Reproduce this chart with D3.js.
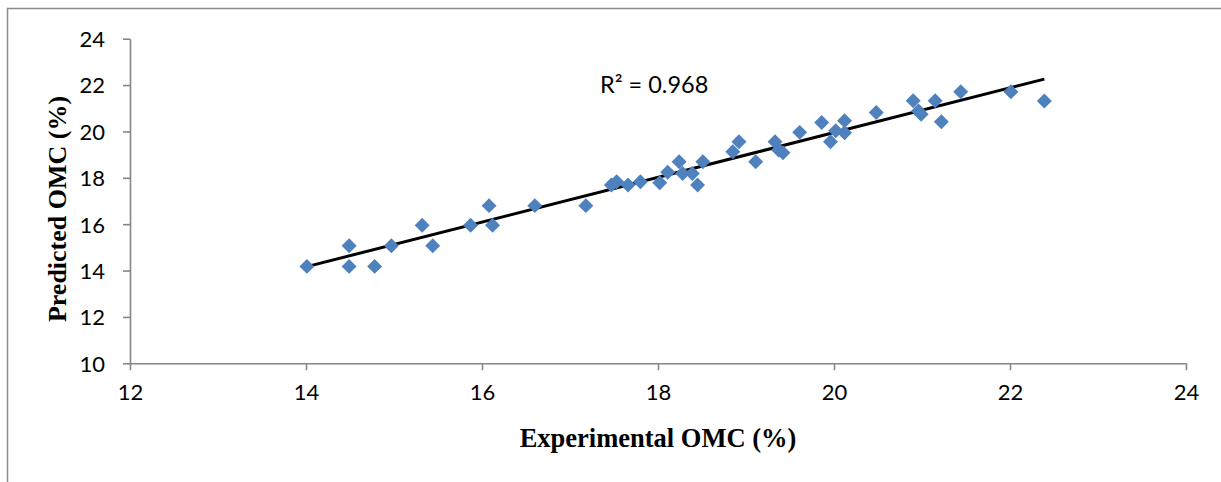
<!DOCTYPE html>
<html><head><meta charset="utf-8">
<script src="https://cdn.jsdelivr.net/npm/d3@7"></script>
<style>
html,body{margin:0;padding:0;background:#fff;}
svg{display:block;}
</style></head>
<body>
<svg id="chart" width="1221" height="482"></svg>
<script>
const experimental = [14.01,14.49,14.49,14.78,14.97,15.32,15.44,15.87,16.08,16.12,16.60,17.18,17.47,17.53,17.66,17.80,18.02,18.11,18.24,18.28,18.39,18.45,18.51,18.85,18.92,19.11,19.33,19.37,19.42,19.61,19.86,19.96,20.02,20.12,20.12,20.48,20.90,20.96,20.99,21.15,21.22,21.44,22.01,22.39];
const predicted    = [14.18,15.07,14.18,14.18,15.07,15.95,15.07,15.95,16.80,15.95,16.80,16.80,17.69,17.83,17.69,17.83,17.79,18.24,18.69,18.19,18.19,17.69,18.69,19.12,19.56,18.69,19.56,19.20,19.08,19.96,20.39,19.56,20.03,20.46,19.94,20.82,21.32,20.88,20.74,21.32,20.42,21.71,21.71,21.31];
const xTicks = [12,14,16,18,20,22,24];
const yTicks = [10,12,14,16,18,20,22,24];
const xTitle = "Experimental OMC (%)";
const yTitle = "Predicted OMC (%)";
const r2Label = "R² = 0.968";

const svg = d3.select("#chart");
const x = d3.scaleLinear().domain([12,24]).range([130,1186]);
const y = d3.scaleLinear().domain([10,24]).range([363.3,38.7]);
const axisColor = "#868686";

// outer border
svg.append("path").attr("d","M7.5,490 L7.5,8.5 L1230,8.5")
  .attr("fill","none").attr("stroke","#8c8c8c").attr("stroke-width",1.5);

const xAxis = svg.append("g").attr("transform","translate(0,363.3)")
  .call(d3.axisBottom(x).tickValues(xTicks).tickSize(7).tickSizeOuter(0).tickPadding(14).tickFormat(d3.format("d")));
const yAxis = svg.append("g").attr("transform","translate(130,0)")
  .call(d3.axisLeft(y).tickValues(yTicks).tickSize(7).tickSizeOuter(0).tickPadding(18).tickFormat(d3.format("d")));
[xAxis,yAxis].forEach(a=>{
  a.selectAll("path,line").attr("stroke",axisColor).attr("stroke-width",1.6);
  a.selectAll("text").attr("fill","#000").style("font-family","Lato, 'Open Sans', sans-serif").style("font-size","22px");
});
yAxis.selectAll("text").attr("dy","0.36em");

// trendline via least squares
const n = experimental.length;
const mx = d3.mean(experimental), my = d3.mean(predicted);
let sxy=0,sxx=0;
for(let i=0;i<n;i++){sxy+=(experimental[i]-mx)*(predicted[i]-my);sxx+=(experimental[i]-mx)**2;}
const slope = sxy/sxx, intercept = my - slope*mx;
const [xmin,xmax] = d3.extent(experimental);
svg.append("line")
  .attr("x1",x(xmin)).attr("y1",y(intercept+slope*xmin))
  .attr("x2",x(xmax)).attr("y2",y(intercept+slope*xmax))
  .attr("stroke","#000").attr("stroke-width",3);

// points
const diamond = d3.symbol().type(d3.symbolSquare).size(112);
svg.append("g").selectAll("path").data(experimental.map((v,i)=>[v,predicted[i]]))
  .join("path")
  .attr("d",diamond)
  .attr("transform",d=>`translate(${x(d[0])},${y(d[1])}) rotate(45)`)
  .attr("fill","#4f81bd");

// R² label
svg.append("text").attr("x",600).attr("y",93).text(r2Label)
  .style("font-family","Lato, 'Open Sans', sans-serif").style("font-size","23.5px").attr("fill","#000");

// axis titles
svg.append("text").attr("x",658).attr("y",447).attr("text-anchor","middle").text(xTitle)
  .style("font-family","'Liberation Serif','Times New Roman',serif").style("font-weight","bold").style("font-size","26.5px");
svg.append("text").attr("transform","translate(66,209) rotate(-90)").attr("text-anchor","middle").text(yTitle)
  .style("font-family","'Liberation Serif','Times New Roman',serif").style("font-weight","bold").style("font-size","26px");
</script>
</body></html>
